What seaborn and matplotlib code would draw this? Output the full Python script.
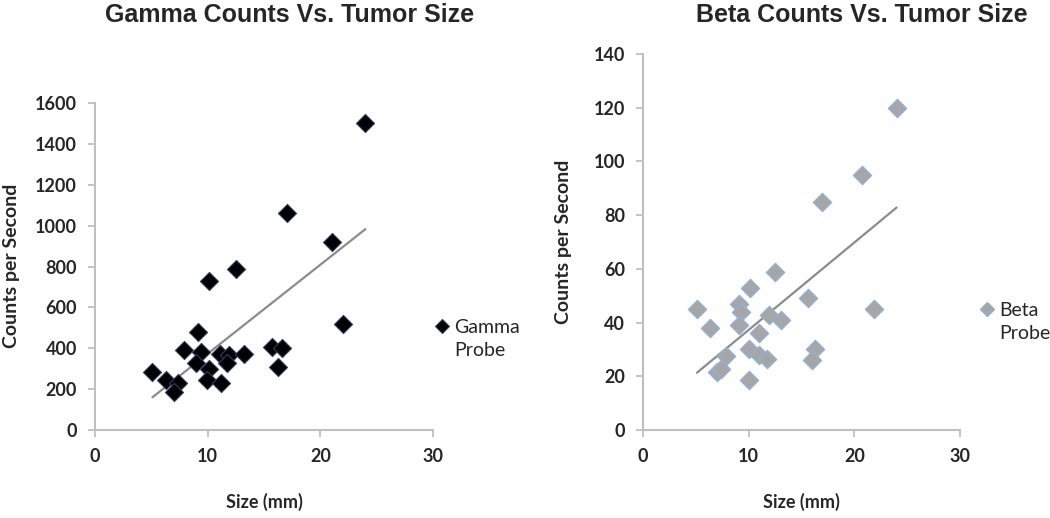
import numpy as np
import pandas as pd
import matplotlib
matplotlib.use("Agg")
import matplotlib.pyplot as plt
from matplotlib.lines import Line2D
import seaborn as sns

# Gamma probe data
gamma_size = [24, 17, 21, 12.5, 10.1, 22, 9.1, 7.9, 9.45, 9.0, 10.1, 11.1,
              11.9, 11.7, 13.2, 15.7, 16.6, 16.2, 5.1, 6.3, 7.4, 7.0, 9.9, 11.2]
gamma_cps = [1500, 1060, 920, 790, 730, 520, 480, 390, 380, 330, 300, 370,
             368, 330, 370, 405, 403, 310, 283, 243, 230, 186, 247, 230]

# Beta probe data
beta_size = [24, 20.7, 16.9, 12.5, 10.1, 15.6, 5.1, 9.1, 9.3, 9.1, 6.3, 11.9,
             13.1, 11.0, 21.9, 10.0, 11.0, 11.7, 7.9, 16.3, 16.0, 7.0, 7.4, 10.0]
beta_cps = [120, 95, 85, 59, 53, 49, 45, 47, 44, 39, 38, 43,
            41, 36, 45, 30, 28, 26.5, 27.5, 30, 26, 21.5, 22.7, 18.5]

x_ticks = [0, 10, 20, 30]
gamma_yticks = list(range(0, 1601, 200))
beta_yticks = list(range(0, 141, 20))

sns.set_theme(style="white")
plt.rcParams['font.family'] = ['Lato', 'DejaVu Sans']
plt.rcParams['font.weight'] = 'bold'

fig = plt.figure(figsize=(10.5, 5.18), dpi=100)
W, H = 1050, 518

axL = fig.add_axes([95 / W, 1 - 430 / H, 338 / W, (430 - 103) / H])
axR = fig.add_axes([643 / W, 1 - 430 / H, 317 / W, (430 - 54) / H])

gdf = pd.DataFrame({"size": gamma_size, "cps": gamma_cps})
bdf = pd.DataFrame({"size": beta_size, "cps": beta_cps})

line_kws = dict(color="#8c8c8c", lw=1.6)

sns.regplot(data=gdf, x="size", y="cps", ax=axL, scatter=False, ci=None,
            line_kws=line_kws, truncate=True)
sns.scatterplot(data=gdf, x="size", y="cps", ax=axL, marker="D", s=85,
                color="black", edgecolor="#2a3f63", linewidth=0.8,
                legend=False, zorder=3)

sns.regplot(data=bdf, x="size", y="cps", ax=axR, scatter=False, ci=None,
            line_kws=line_kws, truncate=True)
sns.scatterplot(data=bdf, x="size", y="cps", ax=axR, marker="D", s=85,
                color="#a6a6a6", edgecolor="#8fb0d8", linewidth=1.0,
                legend=False, zorder=3)

spine_c = "#bfbfbf"
for ax, yt, ylim in [(axL, gamma_yticks, 1600), (axR, beta_yticks, 140)]:
    ax.set_xlim(0, 30)
    ax.set_ylim(0, ylim)
    ax.set_xticks(x_ticks)
    ax.set_yticks(yt)
    ax.set_xlabel("Size (mm)", fontsize=13, fontweight="bold", labelpad=20)
    ax.set_ylabel("")
    sns.despine(ax=ax)
    for s in ["left", "bottom"]:
        ax.spines[s].set_color(spine_c)
        ax.spines[s].set_linewidth(1.5)
    ax.tick_params(axis="both", direction="out", length=5, width=1.3,
                   color=spine_c, labelsize=13, pad=8, left=True, bottom=True)
    ax.grid(False)


def add_legend(ax, face, edge, lw, word, anchor):
    h1 = Line2D([], [], linestyle="none", marker="D", markersize=7,
                markerfacecolor=face, markeredgecolor=edge, markeredgewidth=lw)
    h2 = Line2D([], [], linestyle="none", marker=None)
    ax.legend(handles=[h1, h2], labels=[word, "Probe"], loc="upper left",
              bbox_to_anchor=anchor, bbox_transform=fig.transFigure,
              frameon=False, prop={"size": 14, "weight": "normal"},
              handletextpad=0.2, borderaxespad=0, handlelength=0.9,
              labelspacing=0.3, borderpad=0)


add_legend(axL, "black", "#2a3f63", 0.8, "Gamma", (433 / W, 1 - 319 / H))
add_legend(axR, "#a6a6a6", "#8fb0d8", 1.0, "Beta", (978 / W, 1 - 302 / H))

fig.text(290 / W, 1 - 15 / H, "Gamma Counts Vs. Tumor Size", ha="center",
         va="center", fontsize=18, fontweight="bold",
         family=["Liberation Sans", "DejaVu Sans"])
fig.text(862 / W, 1 - 15 / H, "Beta Counts Vs. Tumor Size", ha="center",
         va="center", fontsize=18, fontweight="bold",
         family=["Liberation Sans", "DejaVu Sans"])

fig.text(12 / W, 1 - 266 / H, "Counts per Second", rotation=90, ha="center",
         va="center", fontsize=14, fontweight="bold")
fig.text(563 / W, 1 - 242 / H, "Counts per Second", rotation=90, ha="center",
         va="center", fontsize=14, fontweight="bold")

fig.savefig("out.png", dpi=100)
